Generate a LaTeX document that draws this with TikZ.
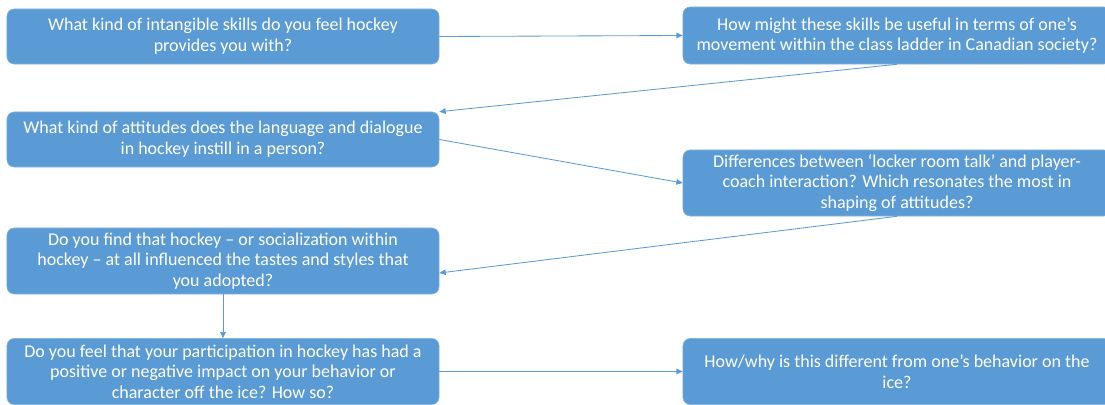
\documentclass[tikz,border=0pt]{standalone}
\usepackage{fontspec}
\setmainfont{Carlito}
\usetikzlibrary{arrows.meta}
\definecolor{bleu}{HTML}{5B9BD5}
\begin{document}
\begin{tikzpicture}[x=0.025cm, y=-0.025cm]
\tikzset{qboite/.style={draw=bleu!75!white, fill=bleu, rounded corners=0.18cm, text=white, align=center, font=\fontsize{12.8}{14.7}\selectfont, minimum width=10.8cm, minimum height=1.375cm, inner sep=0pt}}
\tikzset{fleche/.style={draw=bleu, line width=0.6pt, -{Triangle[length=4.5pt,width=4pt]}}}
\useasboundingbox (0,0) rectangle (1105,405);
\node[qboite] (Q1) at (223,36.5) {What kind of intangible skills  do you feel hockey\\provides you with?};
\node[qboite, minimum width=10.7cm, minimum height=1.425cm] (Q2) at (897,35.5) {How might these skills be useful  in terms of one’s\\movement within the class ladder in Canadian society?};
\node[qboite] (Q3) at (223,139.5) {What kind of attitudes does the language and dialogue\\in hockey instill in a person?};
\node[qboite, minimum width=10.7cm, minimum height=1.65cm] (Q4) at (897,183) {Differences between ‘locker room talk’ and player-\\coach interaction? Which resonates the most in\\shaping of attitudes?};
\node[qboite, minimum height=1.65cm] (Q5) at (223,261) {Do you find  that hockey – or socialization within\\hockey – at all influenced  the tastes and styles that\\you adopted?};
\node[qboite, minimum height=1.65cm] (Q6) at (223,371.5) {Do you feel that your participation in hockey has had a\\positive  or negative impact on your behavior or\\character off the ice? How so?};
\node[qboite, minimum width=10.7cm, minimum height=1.65cm] (Q7) at (897,371.5) {How/why is this different from one’s behavior on the\\ice?};
\draw[fleche] (Q1.east) -- (Q2.west);
\draw[fleche] (Q2.south) -- (Q3.north east);
\draw[fleche] (Q3.east) -- (Q4.west);
\draw[fleche] (Q4.south) -- ([yshift=-0.3cm]Q5.east);
\draw[fleche] (Q5.south) -- (Q6.north);
\draw[fleche] (Q6.east) -- (Q7.west);
\end{tikzpicture}
\end{document}
